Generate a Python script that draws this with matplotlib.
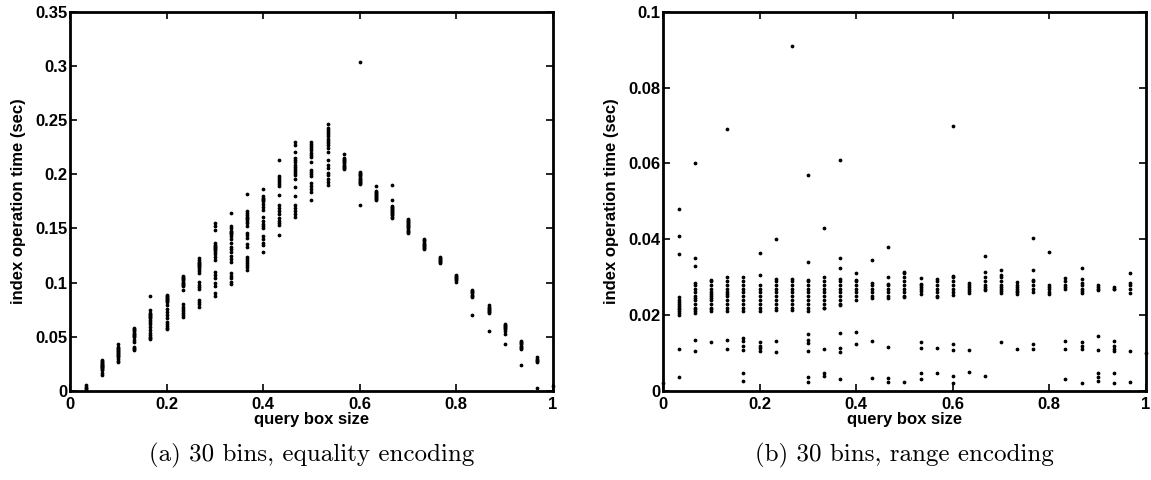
import matplotlib
matplotlib.use("Agg")
import matplotlib.pyplot as plt

# query box sizes: i/30 for i = 0..30
box_sizes = [i / 30 for i in range(31)]

# (a) equality encoding: index operation times per box size (index 0..30)
eq_times = [
    [],
    [0.002, 0.004, 0.006, 0.003],
    [0.015, 0.017, 0.019, 0.020, 0.021, 0.022, 0.023, 0.024, 0.025, 0.026, 0.027, 0.028, 0.029, 0.022, 0.024],
    [0.027, 0.028, 0.030, 0.031, 0.032, 0.033, 0.034, 0.035, 0.036, 0.037, 0.038, 0.039, 0.040, 0.041, 0.043],
    [0.038, 0.039, 0.040, 0.041, 0.045, 0.047, 0.050, 0.051, 0.052, 0.053, 0.054, 0.055, 0.056, 0.057, 0.058],
    [0.048, 0.049, 0.050, 0.052, 0.054, 0.056, 0.059, 0.062, 0.064, 0.066, 0.067, 0.068, 0.069, 0.070, 0.071, 0.072, 0.075, 0.088],
    [0.057, 0.058, 0.060, 0.062, 0.064, 0.067, 0.070, 0.073, 0.076, 0.079, 0.082, 0.083, 0.084, 0.085, 0.086, 0.087, 0.088, 0.089],
    [0.068, 0.070, 0.072, 0.074, 0.076, 0.078, 0.080, 0.093, 0.097, 0.098, 0.099, 0.100, 0.101, 0.102, 0.103, 0.104, 0.105, 0.106],
    [0.078, 0.080, 0.082, 0.084, 0.094, 0.096, 0.098, 0.101, 0.109, 0.111, 0.113, 0.114, 0.115, 0.116, 0.117, 0.118, 0.119, 0.121, 0.123],
    [0.088, 0.090, 0.097, 0.100, 0.104, 0.107, 0.110, 0.121, 0.124, 0.126, 0.128, 0.130, 0.131, 0.132, 0.133, 0.134, 0.135, 0.137, 0.149, 0.152, 0.155],
    [0.099, 0.101, 0.104, 0.106, 0.109, 0.119, 0.122, 0.125, 0.128, 0.131, 0.133, 0.137, 0.140, 0.143, 0.145, 0.146, 0.147, 0.148, 0.150, 0.152, 0.164],
    [0.112, 0.114, 0.116, 0.118, 0.120, 0.122, 0.124, 0.133, 0.136, 0.141, 0.144, 0.146, 0.152, 0.155, 0.157, 0.159, 0.160, 0.161, 0.162, 0.164, 0.166, 0.182],
    [0.128, 0.135, 0.137, 0.140, 0.143, 0.150, 0.152, 0.154, 0.157, 0.161, 0.167, 0.170, 0.173, 0.175, 0.176, 0.177, 0.178, 0.180, 0.186],
    [0.144, 0.153, 0.155, 0.157, 0.160, 0.163, 0.166, 0.169, 0.172, 0.181, 0.189, 0.191, 0.193, 0.195, 0.197, 0.198, 0.213],
    [0.161, 0.163, 0.166, 0.169, 0.172, 0.180, 0.188, 0.196, 0.199, 0.201, 0.203, 0.205, 0.207, 0.209, 0.211, 0.213, 0.215, 0.221, 0.227, 0.230],
    [0.176, 0.184, 0.186, 0.189, 0.192, 0.198, 0.200, 0.202, 0.204, 0.211, 0.216, 0.218, 0.220, 0.222, 0.224, 0.226, 0.228, 0.230],
    [0.190, 0.193, 0.196, 0.199, 0.201, 0.206, 0.209, 0.213, 0.221, 0.224, 0.227, 0.229, 0.231, 0.233, 0.235, 0.237, 0.239, 0.241, 0.243, 0.246],
    [0.205, 0.206, 0.207, 0.208, 0.209, 0.210, 0.211, 0.212, 0.213, 0.214, 0.215, 0.219],
    [0.172, 0.191, 0.192, 0.193, 0.194, 0.195, 0.196, 0.197, 0.198, 0.199, 0.200, 0.201, 0.202, 0.304],
    [0.176, 0.177, 0.178, 0.179, 0.180, 0.181, 0.182, 0.183, 0.184, 0.185, 0.189],
    [0.160, 0.161, 0.162, 0.163, 0.164, 0.165, 0.166, 0.167, 0.168, 0.169, 0.170, 0.171, 0.176, 0.190],
    [0.146, 0.147, 0.148, 0.149, 0.150, 0.151, 0.152, 0.153, 0.154, 0.155, 0.156, 0.157, 0.158, 0.159],
    [0.131, 0.132, 0.133, 0.134, 0.135, 0.136, 0.137, 0.138, 0.139, 0.140],
    [0.118, 0.119, 0.120, 0.121, 0.122, 0.123, 0.124],
    [0.101, 0.102, 0.103, 0.104, 0.105, 0.106, 0.107],
    [0.070, 0.087, 0.088, 0.089, 0.090, 0.091, 0.092, 0.093],
    [0.055, 0.072, 0.073, 0.074, 0.075, 0.076, 0.077, 0.078, 0.079],
    [0.043, 0.053, 0.055, 0.057, 0.058, 0.059, 0.060, 0.061, 0.062],
    [0.024, 0.039, 0.040, 0.041, 0.042, 0.043, 0.044, 0.045, 0.046],
    [0.0025, 0.027, 0.028, 0.029, 0.030, 0.031],
    [0.005],
]

# (b) range encoding
range_times = [
    [0.002],
    [0.0037, 0.0112, 0.020, 0.0205, 0.021, 0.0215, 0.022, 0.0225, 0.023, 0.0235, 0.024, 0.0247, 0.036, 0.041, 0.048],
    [0.0106, 0.0135, 0.0205, 0.021, 0.0215, 0.022, 0.023, 0.024, 0.0245, 0.025, 0.026, 0.027, 0.028, 0.0285, 0.033, 0.035, 0.060],
    [0.0129, 0.021, 0.0215, 0.022, 0.023, 0.024, 0.0245, 0.025, 0.0255, 0.026, 0.027, 0.028, 0.029, 0.0294],
    [0.0111, 0.0135, 0.021, 0.022, 0.023, 0.024, 0.025, 0.0255, 0.026, 0.027, 0.028, 0.029, 0.030, 0.069],
    [0.0026, 0.0048, 0.0109, 0.012, 0.0131, 0.0139, 0.021, 0.022, 0.023, 0.024, 0.025, 0.026, 0.027, 0.028, 0.029, 0.030],
    [0.0105, 0.0113, 0.012, 0.0128, 0.0212, 0.022, 0.023, 0.024, 0.025, 0.026, 0.027, 0.0279, 0.0305, 0.0363],
    [0.0102, 0.0132, 0.0214, 0.022, 0.023, 0.024, 0.025, 0.026, 0.027, 0.028, 0.029, 0.0296, 0.040],
    [0.0214, 0.022, 0.023, 0.024, 0.025, 0.026, 0.027, 0.028, 0.029, 0.0296, 0.091],
    [0.0024, 0.0037, 0.0105, 0.0126, 0.0135, 0.0151, 0.0212, 0.022, 0.023, 0.024, 0.025, 0.026, 0.027, 0.028, 0.029, 0.0294, 0.034, 0.057],
    [0.0039, 0.0048, 0.0112, 0.0218, 0.022, 0.023, 0.024, 0.025, 0.026, 0.027, 0.028, 0.029, 0.030, 0.043],
    [0.0032, 0.0102, 0.0113, 0.0154, 0.0227, 0.023, 0.024, 0.025, 0.026, 0.027, 0.028, 0.029, 0.0296, 0.0324, 0.035, 0.061],
    [0.0124, 0.0155, 0.024, 0.025, 0.026, 0.027, 0.028, 0.029, 0.0294, 0.031],
    [0.0035, 0.0131, 0.0245, 0.025, 0.026, 0.027, 0.028, 0.0285, 0.0345],
    [0.0024, 0.0033, 0.0115, 0.0245, 0.025, 0.026, 0.027, 0.028, 0.0283, 0.030, 0.038],
    [0.0025, 0.0248, 0.025, 0.026, 0.027, 0.028, 0.029, 0.030, 0.031, 0.0314],
    [0.0032, 0.0048, 0.0113, 0.0128, 0.0257, 0.0265, 0.027, 0.0275, 0.028, 0.0283, 0.0299],
    [0.0048, 0.0113, 0.0249, 0.025, 0.026, 0.027, 0.028, 0.029, 0.0296],
    [0.002, 0.0039, 0.0109, 0.0125, 0.0253, 0.026, 0.027, 0.028, 0.029, 0.030, 0.0303, 0.070],
    [0.005, 0.0109, 0.0258, 0.0265, 0.027, 0.0275, 0.028, 0.0285],
    [0.0039, 0.0266, 0.027, 0.0275, 0.028, 0.029, 0.030, 0.0314, 0.0356],
    [0.0128, 0.0259, 0.0265, 0.027, 0.0275, 0.028, 0.029, 0.030, 0.0305, 0.0318],
    [0.0111, 0.0255, 0.026, 0.0265, 0.027, 0.0275, 0.028, 0.0288],
    [0.0111, 0.0125, 0.0261, 0.027, 0.028, 0.029, 0.0294, 0.032, 0.0403],
    [0.0255, 0.026, 0.027, 0.0275, 0.028, 0.0367],
    [0.0032, 0.0111, 0.0131, 0.027, 0.0275, 0.028, 0.029, 0.0299],
    [0.0022, 0.0111, 0.012, 0.0128, 0.0259, 0.0265, 0.027, 0.028, 0.0285, 0.0296, 0.0324],
    [0.0026, 0.0038, 0.0048, 0.0107, 0.0146, 0.0266, 0.027, 0.0275, 0.0279],
    [0.0022, 0.0048, 0.0105, 0.0112, 0.0118, 0.0132, 0.0268, 0.027, 0.0275],
    [0.0024, 0.0106, 0.0259, 0.027, 0.028, 0.0285, 0.0311],
    [0.010],
]

x_ticks = [0, 0.2, 0.4, 0.6, 0.8, 1]
x_ticklabels = ["0", "0.2", "0.4", "0.6", "0.8", "1"]
ya_ticks = [0, 0.05, 0.1, 0.15, 0.2, 0.25, 0.3, 0.35]
ya_ticklabels = ["0", "0.05", "0.1", "0.15", "0.2", "0.25", "0.3", "0.35"]
yb_ticks = [0, 0.02, 0.04, 0.06, 0.08, 0.1]
yb_ticklabels = ["0", "0.02", "0.04", "0.06", "0.08", "0.1"]

captions = ["(a) 30 bins, equality encoding", "(b) 30 bins, range encoding"]

plt.rcParams["font.family"] = ["Liberation Sans", "DejaVu Sans"]

fig = plt.figure(figsize=(11.51, 4.8), dpi=100)
ax_a = fig.add_axes([0.0608, 0.1854, 0.4196, 0.79])
ax_b = fig.add_axes([0.576, 0.1854, 0.4196, 0.79])


def flatten(times):
    xs, ys = [], []
    for x, col in zip(box_sizes, times):
        xs.extend([x] * len(col))
        ys.extend(col)
    return xs, ys


for ax, times, yt, ytl, ymax, cap in [
    (ax_a, eq_times, ya_ticks, ya_ticklabels, 0.35, captions[0]),
    (ax_b, range_times, yb_ticks, yb_ticklabels, 0.1, captions[1]),
]:
    xs, ys = flatten(times)
    ax.plot(xs, ys, "k.", markersize=3.4, clip_on=False)
    ax.set_xlim(0, 1)
    ax.set_ylim(0, ymax)
    ax.set_xticks(x_ticks)
    ax.set_xticklabels(x_ticklabels, fontsize=12, fontweight="bold")
    ax.set_yticks(yt)
    ax.set_yticklabels(ytl, fontsize=12, fontweight="bold")
    ax.tick_params(direction="in", length=5, width=1.2, top=True, right=True, pad=2)
    ax.tick_params(axis="x", pad=4)
    for s in ax.spines.values():
        s.set_linewidth(2)
    ax.set_xlabel("query box size", fontsize=12, fontweight="bold", labelpad=0)
    ax.set_ylabel("index operation time (sec)", fontsize=12, fontweight="bold")
    ax.yaxis.set_label_coords(-0.092, 0.5)
    # caption below the panel, centred on the axes
    pos = ax.get_position()
    fig.text(pos.x0 + pos.width / 2, 1 - 455 / 480, cap, ha="center", va="center",
             fontsize=18, family="cmr10")

fig.savefig("out.png", dpi=100)
